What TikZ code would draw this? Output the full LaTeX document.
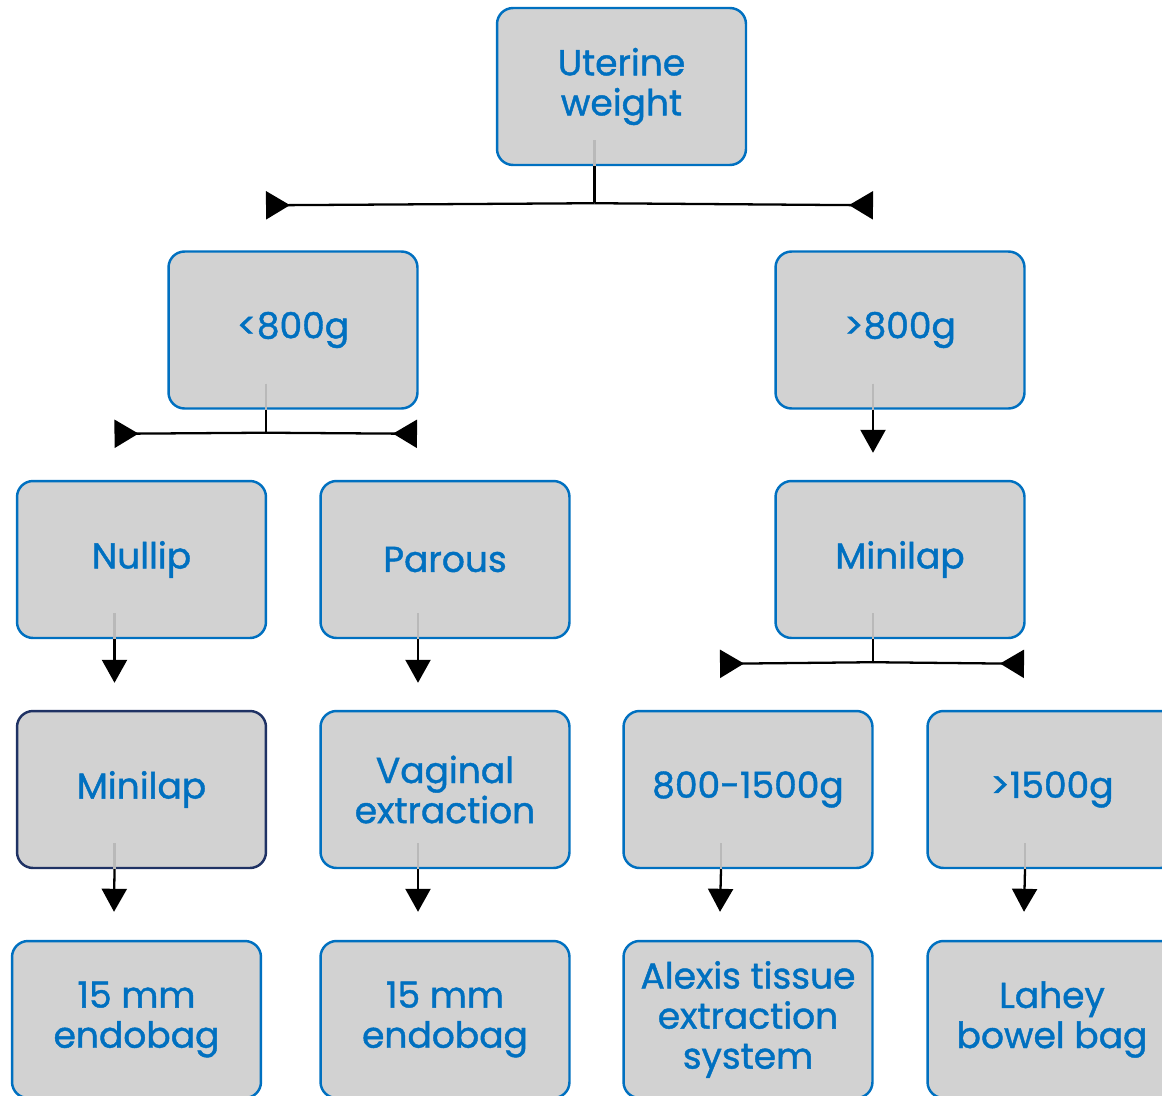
\documentclass[tikz,border=0pt]{standalone}
\usepackage{fontspec}
\setmainfont{Poppins}[FakeBold=1.2]
\usetikzlibrary{positioning}
\usetikzlibrary{arrows.meta}
\usetikzlibrary{calc}

\definecolor{boxblue}{RGB}{0,112,192}
\definecolor{boxgray}{RGB}{210,210,210}
\definecolor{boxnavy}{RGB}{31,50,100}

\begin{document}
\begin{tikzpicture}[
        x=0.02cm, y=-0.02cm,
        box/.style={draw=boxblue, fill=boxgray, line width=1.4pt,
            rounded corners=0.32cm, minimum width=4.98cm, minimum height=3.14cm,
            inner sep=0pt, align=center, text=boxblue,
            font=\fontsize{20.5}{22.8}\selectfont},
        stub/.style={gray!55, line width=1.3pt},
        link/.style={line width=1.3pt},
        down/.style={link, -{Triangle[length=0.46cm, width=0.5cm]}},
        side/.style={link, -{Triangle[reversed, length=0.48cm, width=0.56cm]}}
    ]

        % Marco de la imagen
        \useasboundingbox (0,0) rectangle (1162,1095);
        \clip (0,0) rectangle (1162,1095);

        % Cajas
        \node[box] (root) at (621.5,86.5) {Uterine\\weight};
        \node[box] (light) at (293,330) {<800g};
        \node[box] (heavy) at (900,330) {>800g};
        \node[box] (nullip) at (141.5,559.5) {Nullip};
        \node[box] (parous) at (445,559.5) {Parous};
        \node[box] (minilapR) at (900,559.5) {Minilap};
        \node[box, draw=boxnavy] (minilapL) at (141.5,789.5) {Minilap};
        \node[box] (vaginal) at (445,789.5) {Vaginal\\extraction};
        \node[box] (midwt) at (748,789.5) {800-1500g};
        \node[box] (overwt) at (1052,789.5) {>1500g};
        \node[box] (bagA) at (136.5,1019.5) {15 mm\\endobag};
        \node[box] (bagB) at (445,1019.5) {15 mm\\endobag};
        \node[box] (alexis) at (748,1019.5) {Alexis tissue\\extraction\\system};
        \node[box] (lahey) at (1052,1019.5) {Lahey\\bowel bag};

        % Uterine weight -> <800g / >800g
        \coordinate (rootJ) at ($(root.south)+(-27,37)$);
        \draw[stub] ($(root.south)+(-27,-26)$) -- ($(root.south)+(-27,0)$);
        \draw[link] ($(root.south)+(-27,0)$) -- (rootJ);
        \draw[side] (rootJ) -- ($(light.north)+(-27,-45)$);
        \draw[side] (rootJ) -- ($(heavy.north)+(-27,-45)$);

        % <800g -> Nullip / Parous
        \coordinate (lightJ) at ($(light.south)+(-27,23)$);
        \draw[stub] ($(light.south)+(-27,-26)$) -- ($(light.south)+(-27,0)$);
        \draw[link] ($(light.south)+(-27,0)$) -- (lightJ);
        \draw[side] (lightJ) -- ($(nullip.north)+(-27,-46)$);
        \draw[side] (lightJ) -- ($(parous.north)+(-28,-46)$);

        % >800g -> Minilap
        \draw[stub] ($(heavy.south)+(-27,-26)$) -- ($(heavy.south)+(-27,0)$);
        \draw[down] ($(heavy.south)+(-27,0)$) -- ($(minilapR.north)+(-27,-27)$);

        % Minilap -> 800-1500g / >1500g
        \coordinate (minilapJ) at ($(minilapR.south)+(-27,23)$);
        \draw[stub] ($(minilapR.south)+(-27,-26)$) -- ($(minilapR.south)+(-27,0)$);
        \draw[link] ($(minilapR.south)+(-27,0)$) -- (minilapJ);
        \draw[side] (minilapJ) -- ($(midwt.north)+(-28,-46)$);
        \draw[side] (minilapJ) -- ($(overwt.north)+(-28,-46)$);

        % Flechas simples hacia abajo
        \draw[stub] ($(nullip.south)+(-27,-26)$) -- ($(nullip.south)+(-27,0)$);
        \draw[down] ($(nullip.south)+(-27,0)$) -- ($(minilapL.north)+(-27,-27)$);
        \draw[stub] ($(parous.south)+(-27,-26)$) -- ($(parous.south)+(-27,0)$);
        \draw[down] ($(parous.south)+(-27,0)$) -- ($(vaginal.north)+(-27,-27)$);
        \draw[stub] ($(minilapL.south)+(-27,-26)$) -- ($(minilapL.south)+(-27,0)$);
        \draw[down] ($(minilapL.south)+(-27,0)$) -- ($(bagA.north)+(-22.5,-28)$);
        \draw[stub] ($(vaginal.south)+(-27,-26)$) -- ($(vaginal.south)+(-27,0)$);
        \draw[down] ($(vaginal.south)+(-27,0)$) -- ($(bagB.north)+(-27,-28)$);
        \draw[stub] ($(midwt.south)+(-27,-26)$) -- ($(midwt.south)+(-27,0)$);
        \draw[down] ($(midwt.south)+(-27,0)$) -- ($(alexis.north)+(-28,-28)$);
        \draw[stub] ($(overwt.south)+(-27,-26)$) -- ($(overwt.south)+(-27,0)$);
        \draw[down] ($(overwt.south)+(-27,0)$) -- ($(lahey.north)+(-28,-28)$);

    \end{tikzpicture}
\end{document}
